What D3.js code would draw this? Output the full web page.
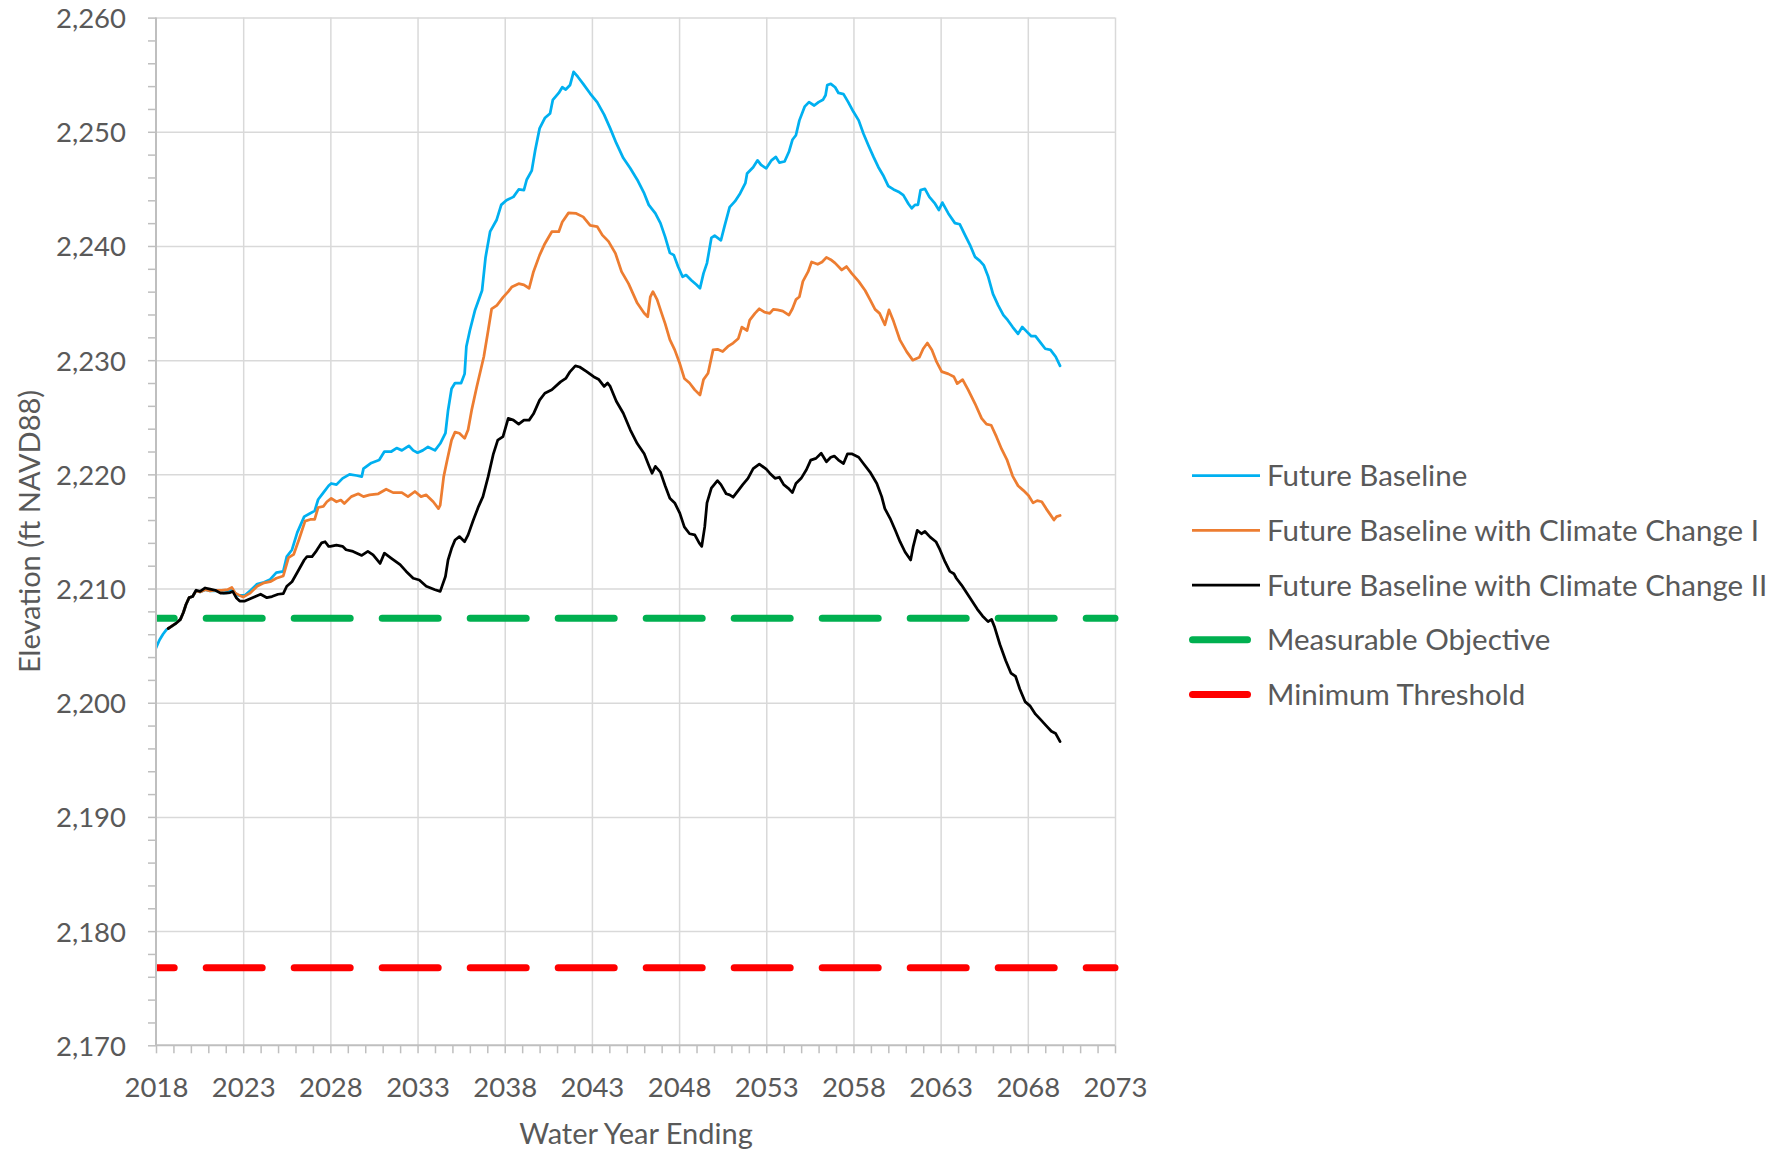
<!DOCTYPE html>
<html>
<head>
<meta charset="utf-8">
<script src="https://cdn.jsdelivr.net/npm/d3@7"></script>
<style>
  html, body { margin: 0; padding: 0; background: #ffffff; }
  svg { display: block; font-family: Lato, "Open Sans", sans-serif; }
</style>
</head>
<body>
<svg id="chart" width="1788" height="1152"></svg>
<script>
// ---------- DATA ----------
const seriesNames = [
  "Future Baseline",
  "Future Baseline with Climate Change I",
  "Future Baseline with Climate Change II",
  "Measurable Objective",
  "Minimum Threshold"
];

const futureBaseline = [
  [2018.00,2204.8],[2018.20,2205.5],[2018.40,2206.0],[2018.60,2206.4],[2018.80,2206.6],
  [2019.10,2206.9],[2019.40,2207.3],[2019.57,2207.9],[2019.72,2208.6],[2019.90,2209.2],
  [2020.10,2209.3],[2020.30,2209.8],[2020.53,2209.7],[2020.82,2209.9],[2021.10,2209.8],
  [2021.50,2209.8],[2021.90,2209.6],[2022.35,2209.9],[2022.70,2209.4],[2023.10,2209.4],
  [2023.40,2209.8],[2023.80,2210.4],[2024.20,2210.55],[2024.55,2210.8],[2024.90,2211.4],
  [2025.30,2211.5],[2025.50,2212.8],[2025.80,2213.4],[2026.10,2214.9],[2026.50,2216.3],
  [2026.85,2216.6],[2027.10,2216.8],[2027.30,2217.8],[2027.60,2218.4],[2027.90,2219.0],
  [2028.05,2219.2],[2028.35,2219.1],[2028.70,2219.65],[2029.10,2220.0],[2029.50,2219.9],
  [2029.80,2219.8],[2029.90,2220.5],[2030.35,2221.0],[2030.80,2221.25],[2031.10,2222.0],
  [2031.50,2222.0],[2031.80,2222.3],[2032.10,2222.1],[2032.50,2222.5],[2032.75,2222.1],
  [2033.00,2221.9],[2033.30,2222.1],[2033.60,2222.4],[2034.00,2222.1],[2034.30,2222.7],
  [2034.60,2223.6],[2034.75,2225.6],[2034.95,2227.5],[2035.15,2228.0],[2035.50,2228.0],
  [2035.70,2228.8],[2035.80,2231.2],[2036.00,2232.6],[2036.30,2234.4],[2036.70,2236.1],
  [2036.90,2239.0],[2037.16,2241.25],[2037.54,2242.3],[2037.80,2243.6],[2038.10,2244.0],
  [2038.50,2244.3],[2038.80,2244.95],[2039.10,2244.9],[2039.26,2245.8],[2039.55,2246.6],
  [2039.75,2248.4],[2040.00,2250.3],[2040.30,2251.2],[2040.60,2251.6],[2040.76,2252.8],
  [2041.10,2253.4],[2041.30,2253.9],[2041.50,2253.7],[2041.75,2254.1],[2041.95,2255.25],
  [2042.20,2254.8],[2042.50,2254.2],[2042.90,2253.35],[2043.30,2252.6],[2043.70,2251.5],
  [2044.05,2250.3],[2044.40,2249.0],[2044.80,2247.7],[2045.20,2246.8],[2045.60,2245.8],
  [2046.00,2244.6],[2046.26,2243.6],[2046.64,2242.85],[2046.93,2242.0],[2047.20,2240.8],
  [2047.47,2239.4],[2047.70,2239.2],[2047.94,2238.2],[2048.20,2237.3],[2048.40,2237.45],
  [2048.70,2237.0],[2049.00,2236.6],[2049.20,2236.3],[2049.40,2237.6],[2049.60,2238.5],
  [2049.85,2240.7],[2050.04,2240.9],[2050.40,2240.5],[2050.60,2241.7],[2050.90,2243.4],
  [2051.20,2243.9],[2051.50,2244.6],[2051.80,2245.5],[2051.90,2246.35],[2052.25,2246.9],
  [2052.50,2247.5],[2052.70,2247.1],[2053.00,2246.8],[2053.30,2247.5],[2053.55,2247.8],
  [2053.75,2247.3],[2054.05,2247.4],[2054.30,2248.25],[2054.50,2249.3],[2054.70,2249.7],
  [2054.90,2251.0],[2055.20,2252.2],[2055.45,2252.6],[2055.75,2252.3],[2056.00,2252.6],
  [2056.25,2252.8],[2056.40,2253.2],[2056.50,2254.1],[2056.70,2254.2],[2056.95,2253.9],
  [2057.14,2253.4],[2057.43,2253.3],[2057.70,2252.6],[2058.00,2251.75],[2058.30,2251.0],
  [2058.57,2249.85],[2058.86,2248.8],[2059.15,2247.8],[2059.43,2246.9],[2059.70,2246.2],
  [2060.00,2245.25],[2060.30,2244.95],[2060.58,2244.75],[2060.86,2244.45],[2061.15,2243.7],
  [2061.34,2243.3],[2061.53,2243.6],[2061.70,2243.6],[2061.85,2244.9],[2062.10,2245.0],
  [2062.35,2244.3],[2062.68,2243.7],[2062.90,2243.15],[2063.10,2243.8],[2063.44,2242.85],
  [2063.82,2242.0],[2064.10,2241.9],[2064.40,2240.95],[2064.68,2240.1],[2064.97,2239.05],
  [2065.25,2238.7],[2065.48,2238.3],[2065.73,2237.3],[2066.00,2235.8],[2066.30,2234.8],
  [2066.60,2233.95],[2066.85,2233.5],[2067.13,2232.9],[2067.44,2232.3],[2067.68,2232.9],
  [2067.94,2232.5],[2068.20,2232.1],[2068.44,2232.1],[2068.75,2231.5],[2069.00,2231.0],
  [2069.30,2230.9],[2069.60,2230.3],[2069.85,2229.5]
];

const climateChangeI = [
  [2018.70,2206.5],[2019.10,2206.9],[2019.40,2207.3],[2019.57,2207.9],[2019.72,2208.6],
  [2019.90,2209.2],[2020.10,2209.3],[2020.30,2209.8],[2020.53,2209.7],[2020.82,2209.9],
  [2021.10,2209.8],[2021.40,2209.85],[2021.75,2209.85],[2022.10,2209.9],[2022.35,2210.1],
  [2022.55,2209.6],[2022.80,2209.4],[2023.00,2209.25],[2023.40,2209.6],[2023.80,2210.2],
  [2024.20,2210.5],[2024.55,2210.6],[2024.90,2210.9],[2025.30,2211.1],[2025.60,2212.7],
  [2025.90,2213.0],[2026.20,2214.3],[2026.55,2215.9],[2026.85,2216.05],[2027.10,2216.05],
  [2027.30,2217.1],[2027.60,2217.2],[2027.80,2217.6],[2028.05,2217.9],[2028.35,2217.6],
  [2028.60,2217.75],[2028.80,2217.45],[2029.20,2218.05],[2029.60,2218.3],[2029.90,2218.05],
  [2030.25,2218.2],[2030.75,2218.3],[2031.20,2218.7],[2031.60,2218.4],[2032.10,2218.4],
  [2032.45,2218.05],[2032.85,2218.5],[2033.20,2218.05],[2033.50,2218.2],[2033.90,2217.6],
  [2034.20,2217.0],[2034.30,2217.3],[2034.50,2219.8],[2034.70,2221.25],[2034.95,2223.0],
  [2035.15,2223.7],[2035.40,2223.6],[2035.70,2223.15],[2035.90,2223.9],[2036.10,2225.6],
  [2036.40,2227.7],[2036.80,2230.3],[2037.05,2232.6],[2037.25,2234.5],[2037.55,2234.8],
  [2037.90,2235.5],[2038.20,2236.0],[2038.40,2236.4],[2038.80,2236.7],[2039.10,2236.6],
  [2039.40,2236.3],[2039.65,2237.75],[2040.00,2239.2],[2040.30,2240.2],[2040.70,2241.25],
  [2041.10,2241.25],[2041.30,2242.1],[2041.66,2242.9],[2042.10,2242.85],[2042.50,2242.55],
  [2042.90,2241.8],[2043.30,2241.7],[2043.60,2240.95],[2043.95,2240.4],[2044.35,2239.35],
  [2044.70,2237.75],[2045.10,2236.7],[2045.60,2235.0],[2046.00,2234.1],[2046.20,2233.8],
  [2046.35,2235.55],[2046.50,2236.0],[2046.74,2235.3],[2047.00,2234.1],[2047.20,2233.2],
  [2047.47,2231.8],[2047.75,2230.9],[2048.04,2229.7],[2048.30,2228.4],[2048.60,2228.0],
  [2048.90,2227.4],[2049.20,2226.95],[2049.40,2228.3],[2049.66,2228.85],[2049.95,2230.9],
  [2050.20,2230.95],[2050.50,2230.75],[2050.80,2231.2],[2051.10,2231.5],[2051.40,2231.9],
  [2051.60,2232.9],[2051.90,2232.6],[2052.05,2233.5],[2052.35,2234.1],[2052.60,2234.5],
  [2052.90,2234.2],[2053.20,2234.1],[2053.40,2234.45],[2053.65,2234.4],[2053.95,2234.3],
  [2054.30,2233.95],[2054.50,2234.5],[2054.70,2235.3],[2054.90,2235.55],[2055.10,2236.9],
  [2055.40,2237.75],[2055.60,2238.6],[2055.95,2238.4],[2056.20,2238.6],[2056.45,2239.0],
  [2056.70,2238.8],[2056.95,2238.5],[2057.33,2237.9],[2057.60,2238.2],[2057.90,2237.6],
  [2058.30,2236.9],[2058.67,2236.1],[2058.95,2235.3],[2059.24,2234.45],[2059.50,2234.1],
  [2059.80,2233.1],[2060.04,2234.4],[2060.30,2233.4],[2060.67,2231.75],[2061.05,2230.75],
  [2061.40,2230.0],[2061.78,2230.25],[2062.00,2231.0],[2062.24,2231.5],[2062.50,2230.9],
  [2062.77,2229.85],[2063.06,2229.0],[2063.44,2228.8],[2063.76,2228.55],[2063.95,2227.95],
  [2064.26,2228.3],[2064.58,2227.4],[2064.97,2226.2],[2065.35,2224.9],[2065.63,2224.4],
  [2065.90,2224.3],[2066.20,2223.3],[2066.50,2222.2],[2066.80,2221.3],[2067.13,2219.85],
  [2067.44,2219.0],[2067.74,2218.6],[2068.04,2218.15],[2068.30,2217.5],[2068.54,2217.7],
  [2068.80,2217.6],[2069.05,2217.0],[2069.30,2216.45],[2069.50,2216.0],[2069.65,2216.3],
  [2069.85,2216.4]
];

const climateChangeII = [
  [2018.70,2206.5],[2018.80,2206.6],[2019.10,2206.9],[2019.40,2207.3],[2019.57,2207.9],
  [2019.72,2208.6],[2019.90,2209.2],[2020.10,2209.3],[2020.30,2209.85],[2020.53,2209.75],
  [2020.82,2210.05],[2021.10,2209.95],[2021.40,2209.85],[2021.70,2209.6],[2022.00,2209.6],
  [2022.25,2209.65],[2022.40,2209.75],[2022.60,2209.2],[2022.80,2208.9],[2023.10,2208.9],
  [2023.40,2209.1],[2023.70,2209.3],[2024.00,2209.5],[2024.36,2209.2],[2024.65,2209.3],
  [2025.00,2209.5],[2025.30,2209.55],[2025.50,2210.2],[2025.80,2210.6],[2026.10,2211.4],
  [2026.50,2212.5],[2026.66,2212.8],[2026.95,2212.8],[2027.20,2213.3],[2027.50,2214.0],
  [2027.70,2214.1],[2027.90,2213.7],[2028.00,2213.7],[2028.35,2213.8],[2028.70,2213.7],
  [2028.90,2213.4],[2029.30,2213.25],[2029.80,2212.9],[2030.15,2213.25],[2030.45,2212.95],
  [2030.85,2212.2],[2031.10,2213.1],[2031.50,2212.65],[2032.00,2212.1],[2032.35,2211.5],
  [2032.75,2210.9],[2033.10,2210.75],[2033.50,2210.2],[2034.00,2209.9],[2034.30,2209.75],
  [2034.60,2211.05],[2034.75,2212.5],[2034.95,2213.5],[2035.15,2214.25],[2035.40,2214.55],
  [2035.70,2214.1],[2035.90,2214.7],[2036.20,2216.0],[2036.50,2217.2],[2036.75,2218.05],
  [2037.05,2219.8],[2037.35,2221.8],[2037.60,2223.0],[2037.90,2223.3],[2038.20,2224.9],
  [2038.50,2224.75],[2038.80,2224.4],[2039.10,2224.75],[2039.40,2224.75],[2039.65,2225.3],
  [2040.00,2226.5],[2040.30,2227.1],[2040.70,2227.4],[2041.20,2228.1],[2041.50,2228.4],
  [2041.75,2229.0],[2042.05,2229.5],[2042.30,2229.4],[2042.70,2229.0],[2043.10,2228.55],
  [2043.40,2228.3],[2043.70,2227.7],[2043.90,2228.0],[2044.05,2227.7],[2044.40,2226.4],
  [2044.80,2225.35],[2045.20,2223.9],[2045.60,2222.7],[2046.00,2221.8],[2046.26,2220.8],
  [2046.45,2220.1],[2046.64,2220.7],[2046.93,2220.2],[2047.20,2219.0],[2047.47,2217.9],
  [2047.75,2217.5],[2048.04,2216.6],[2048.30,2215.4],[2048.60,2214.8],[2048.90,2214.7],
  [2049.15,2214.0],[2049.30,2213.7],[2049.47,2215.4],[2049.60,2217.5],[2049.85,2218.8],
  [2050.20,2219.45],[2050.40,2219.1],[2050.70,2218.3],[2050.90,2218.2],[2051.10,2218.0],
  [2051.40,2218.6],[2051.65,2219.1],[2051.95,2219.65],[2052.25,2220.5],[2052.60,2220.9],
  [2053.00,2220.45],[2053.20,2220.1],[2053.50,2219.65],[2053.75,2219.75],[2054.00,2219.1],
  [2054.25,2218.8],[2054.50,2218.4],[2054.70,2219.2],[2055.00,2219.65],[2055.30,2220.4],
  [2055.55,2221.25],[2055.85,2221.4],[2056.15,2221.85],[2056.45,2221.1],[2056.70,2221.5],
  [2056.90,2221.6],[2057.14,2221.25],[2057.43,2220.95],[2057.66,2221.8],[2057.90,2221.8],
  [2058.30,2221.5],[2058.57,2220.95],[2058.95,2220.2],[2059.34,2219.2],[2059.62,2218.05],
  [2059.80,2217.0],[2060.10,2216.15],[2060.40,2215.1],[2060.67,2214.1],[2060.96,2213.2],
  [2061.28,2212.5],[2061.43,2213.7],[2061.66,2215.1],[2061.90,2214.8],[2062.10,2215.0],
  [2062.40,2214.5],[2062.73,2214.1],[2062.96,2213.4],[2063.25,2212.35],[2063.53,2211.5],
  [2063.76,2211.3],[2063.90,2210.9],[2064.20,2210.3],[2064.50,2209.6],[2064.80,2208.9],
  [2065.10,2208.2],[2065.40,2207.6],[2065.72,2207.1],[2065.92,2207.3],[2066.10,2206.6],
  [2066.40,2205.1],[2066.73,2203.7],[2067.03,2202.6],[2067.30,2202.3],[2067.54,2201.2],
  [2067.84,2200.1],[2068.14,2199.7],[2068.44,2199.0],[2068.75,2198.5],[2069.05,2198.0],
  [2069.35,2197.5],[2069.60,2197.3],[2069.85,2196.6]
];

const measurableObjective = [[2018, 2207.4], [2073, 2207.4]];
const minimumThreshold = [[2018, 2176.8], [2073, 2176.8]];

const xMajorTicks = [2018, 2023, 2028, 2033, 2038, 2043, 2048, 2053, 2058, 2063, 2068, 2073];
const yMajorTicks = [2170, 2180, 2190, 2200, 2210, 2220, 2230, 2240, 2250, 2260];

const xTitle = "Water Year Ending";
const yTitle = "Elevation (ft NAVD88)";

// ---------- LAYOUT ----------
const W = 1788, H = 1152;
const plot = { left: 156, right: 1115, top: 17.6, bottom: 1045.3 };
const textColor = "#595959";
const gridColor = "#d9d9d9";
const axisColor = "#bfbfbf";
const colors = ["#00b0f0", "#ed7d31", "#000000", "#00b050", "#ff0000"];

const svg = d3.select("#chart");
svg.append("rect").attr("width", W).attr("height", H).attr("fill", "#fff");

const x = d3.scaleLinear().domain([2018, 2073]).range([plot.left, plot.right]);
const y = d3.scaleLinear().domain([2170, 2260]).range([plot.bottom, plot.top]);

// gridlines
const grid = svg.append("g");
grid.append("g").attr("transform", `translate(0,${plot.bottom})`)
  .call(d3.axisBottom(x).tickValues(xMajorTicks.slice(1)).tickSize(-(plot.bottom - plot.top)).tickFormat(""))
  .call(g => g.select(".domain").remove())
  .call(g => g.selectAll("line").attr("stroke", gridColor).attr("stroke-width", 1.5));
grid.append("g").attr("transform", `translate(${plot.left},0)`)
  .call(d3.axisLeft(y).tickValues(yMajorTicks.slice(1)).tickSize(-(plot.right - plot.left)).tickFormat(""))
  .call(g => g.select(".domain").remove())
  .call(g => g.selectAll("line").attr("stroke", gridColor).attr("stroke-width", 1.5));

// minor ticks
const xMinor = d3.range(2018, 2074, 1);
const yMinor = d3.range(2170, 2261, 2);
svg.append("g").attr("transform", `translate(0,${plot.bottom})`)
  .call(d3.axisBottom(x).tickValues(xMinor).tickSize(8).tickFormat(""))
  .call(g => g.select(".domain").remove())
  .call(g => g.selectAll("line").attr("stroke", axisColor).attr("stroke-width", 1.5));
svg.append("g").attr("transform", `translate(${plot.left},0)`)
  .call(d3.axisLeft(y).tickValues(yMinor).tickSize(8).tickFormat(""))
  .call(g => g.select(".domain").remove())
  .call(g => g.selectAll("line").attr("stroke", axisColor).attr("stroke-width", 1.5));

// axis lines
svg.append("line").attr("x1", plot.left).attr("x2", plot.right)
  .attr("y1", plot.bottom).attr("y2", plot.bottom).attr("stroke", axisColor).attr("stroke-width", 2);
svg.append("line").attr("x1", plot.left).attr("x2", plot.left)
  .attr("y1", plot.top).attr("y2", plot.bottom).attr("stroke", axisColor).attr("stroke-width", 2);

// tick labels
svg.append("g").attr("transform", `translate(${plot.left},0)`)
  .call(d3.axisLeft(y).tickValues(yMajorTicks).tickSize(0).tickPadding(30).tickFormat(d3.format(",")))
  .call(g => g.select(".domain").remove())
  .call(g => g.selectAll("text").attr("fill", textColor).attr("font-size", 27.5)
    .attr("font-family", "Lato").attr("dy", "0.36em"));
svg.append("g").attr("transform", `translate(0,${plot.bottom})`)
  .call(d3.axisBottom(x).tickValues(xMajorTicks).tickSize(0).tickFormat(d3.format("d")))
  .call(g => g.select(".domain").remove())
  .call(g => g.selectAll("text").attr("fill", textColor).attr("font-size", 27.5)
    .attr("font-family", "Lato").attr("y", 51.4).attr("dy", 0));

// axis titles
svg.append("text").attr("x", 636).attr("y", 1144).attr("text-anchor", "middle")
  .attr("fill", textColor).attr("font-size", 29).text(xTitle);
svg.append("text").attr("transform", "translate(40,531.5) rotate(-90)").attr("text-anchor", "middle")
  .attr("fill", textColor).attr("font-size", 29).text(yTitle);

// clip
svg.append("clipPath").attr("id", "clip").append("rect")
  .attr("x", plot.left + 1).attr("y", 0).attr("width", plot.right - plot.left + 10).attr("height", H);

const line = d3.line().x(d => x(d[0])).y(d => y(d[1]));
const dataG = svg.append("g").attr("clip-path", "url(#clip)");

[futureBaseline, climateChangeI, climateChangeII].forEach((s, i) => {
  dataG.append("path").datum(s).attr("d", line).attr("fill", "none")
    .attr("stroke", colors[i]).attr("stroke-width", 2.75)
    .attr("stroke-linejoin", "round").attr("stroke-linecap", "round");
});
[measurableObjective, minimumThreshold].forEach((s, i) => {
  dataG.append("path").datum(s).attr("d", line).attr("fill", "none")
    .attr("stroke", colors[3 + i]).attr("stroke-width", 7)
    .attr("stroke-linecap", "round").attr("stroke-dasharray", "56 32")
    .attr("stroke-dashoffset", 37.8);
});

// legend
const legend = svg.append("g");
const legY0 = 475.6, legStep = 54.75;
seriesNames.forEach((name, i) => {
  const ly = legY0 + i * legStep;
  if (i < 3) {
    legend.append("line").attr("x1", 1192).attr("x2", 1260).attr("y1", ly).attr("y2", ly)
      .attr("stroke", colors[i]).attr("stroke-width", 2.75);
  } else {
    legend.append("line").attr("x1", 1192.5).attr("x2", 1247.5).attr("y1", ly).attr("y2", ly)
      .attr("stroke", colors[i]).attr("stroke-width", 7).attr("stroke-linecap", "round");
  }
  legend.append("text").attr("x", 1267).attr("y", ly + 10.5).attr("fill", textColor)
    .attr("font-size", 29.5).text(name);
});
</script>
</body>
</html>
